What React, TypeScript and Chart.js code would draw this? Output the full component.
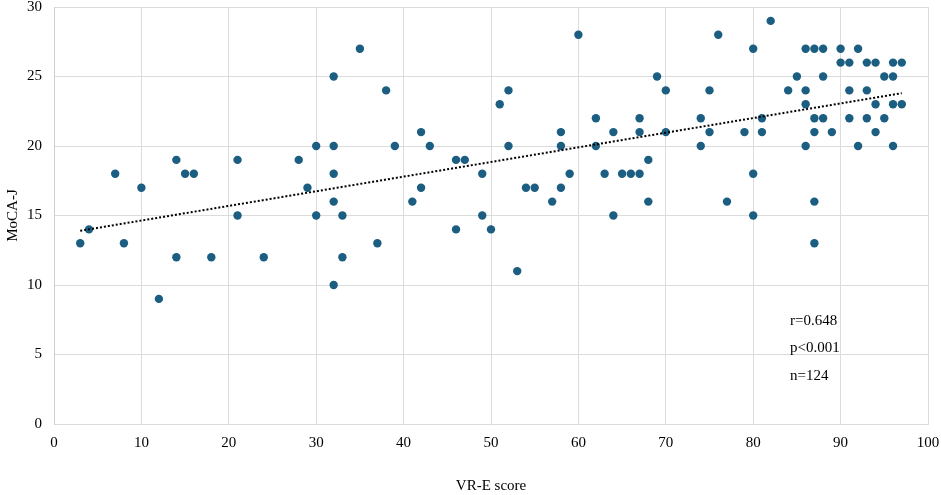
import React, { useEffect, useRef } from "react";
import { Chart, registerables } from "chart.js";
import type { Plugin } from "chart.js";

Chart.register(...registerables);

// VR-E score vs MoCA-J
const vreScores = [
  3, 4, 7, 8, 10, 12, 14, 14, 15, 16, 18, 21, 21, 24, 28, 29, 30, 30, 32, 32, 32, 32, 32, 33, 33, 35,
  37, 38, 39, 41, 42, 42, 43, 46, 46, 47, 49, 49, 50, 51, 52, 52, 53, 54, 55, 57, 58, 58, 58, 59,
  60, 62, 62, 63, 64, 64, 65, 66, 67, 67, 67, 68, 68, 69,
  70, 70, 74, 74, 75, 75, 76, 77, 79, 80, 80, 80, 81, 81, 82, 84, 85, 86, 86, 86, 86,
  87, 87, 87, 87, 87, 88, 88, 88, 89, 90, 90, 91, 91, 91, 92, 92, 93, 93, 93, 94, 94, 94,
  95, 95, 96, 96, 96, 96, 97, 97,
];
const mocaScores = [
  13, 14, 18, 13, 17, 9, 19, 12, 18, 18, 12, 19, 15, 12, 19, 17, 20, 15, 25, 20, 18, 16, 10, 15, 12, 27,
  13, 24, 20, 16, 21, 17, 20, 19, 14, 19, 18, 15, 14, 23, 24, 20, 11, 17, 17, 16, 21, 20, 17, 18,
  28, 22, 20, 18, 21, 15, 18, 18, 22, 21, 18, 19, 16, 25,
  24, 21, 22, 20, 24, 21, 28, 16, 21, 27, 18, 15, 22, 21, 29, 24, 25, 27, 24, 23, 20,
  27, 22, 21, 16, 13, 27, 25, 22, 21, 27, 26, 26, 24, 22, 27, 20, 26, 24, 22, 26, 23, 21,
  25, 22, 26, 25, 23, 20, 26, 23,
];

// dotted linear trend line end points
const trendX = [3, 97];
const trendY = [13.9, 23.8];

const statLines = ["r=0.648", "p<0.001", "n=124"];

const FONT = "'Liberation Serif', 'Times New Roman', serif";

const statsPlugin: Plugin<"scatter"> = {
  id: "statsText",
  afterDatasetsDraw(chart) {
    const ctx = chart.ctx;
    ctx.save();
    ctx.fillStyle = "#000";
    ctx.font = `15px ${FONT}`;
    ctx.textBaseline = "middle";
    ctx.textAlign = "left";
    statLines.forEach((line, i) => {
      ctx.fillText(line, 790, 321 + i * 27.5);
    });
    ctx.restore();
  },
};

const ScatterChart: React.FC = () => {
  const canvasRef = useRef<HTMLCanvasElement | null>(null);
  const chartRef = useRef<Chart | null>(null);

  useEffect(() => {
    if (!canvasRef.current) return;
    if (chartRef.current) chartRef.current.destroy();

    const points = vreScores.map((x, i) => ({ x, y: mocaScores[i] }));
    const trend = trendX.map((x, i) => ({ x, y: trendY[i] }));

    chartRef.current = new Chart(canvasRef.current, {
      type: "scatter",
      data: {
        datasets: [
          {
            label: "trend",
            data: trend,
            showLine: true,
            borderColor: "#000",
            borderWidth: 2,
            borderDash: [2, 2],
            pointRadius: 0,
            fill: false,
          },
          {
            label: "MoCA-J",
            data: points,
            pointRadius: 4.2,
            pointBackgroundColor: "#1b5e82",
            pointBorderWidth: 0,
          },
        ],
      },
      options: {
        animation: false,
        responsive: true,
        maintainAspectRatio: false,
        layout: { padding: { top: 7, right: 13, bottom: 0, left: 0 } },
        plugins: {
          legend: { display: false },
          tooltip: { enabled: false },
        },
        scales: {
          x: {
            type: "linear",
            min: 0,
            max: 100,
            ticks: {
              stepSize: 10,
              color: "#000",
              font: { family: FONT, size: 15 },
              padding: 10,
            },
            grid: { color: "#dcdcdc", drawTicks: false, lineWidth: 1 },
            border: { color: "#dcdcdc" },
            title: {
              display: true,
              text: "VR-E score",
              color: "#000",
              font: { family: FONT, size: 15 },
              padding: { top: 26, bottom: 0 },
            },
            afterFit: (scale) => {
              scale.height = 71;
              scale.paddingLeft = 0;
              scale.paddingRight = 0;
            },
          },
          y: {
            type: "linear",
            min: 0,
            max: 30,
            ticks: {
              stepSize: 5,
              color: "#000",
              font: { family: FONT, size: 15 },
              padding: 12,
            },
            grid: { color: "#dcdcdc", drawTicks: false, lineWidth: 1 },
            border: { color: "#cfcfcf" },
            title: {
              display: true,
              text: "MoCA-J",
              color: "#000",
              font: { family: FONT, size: 15 },
              padding: { bottom: 0 },
            },
            afterFit: (scale) => {
              scale.width = 54;
              scale.paddingTop = 0;
              scale.paddingBottom = 0;
            },
          },
        },
      },
      plugins: [statsPlugin],
    });

    return () => {
      if (chartRef.current) {
        chartRef.current.destroy();
        chartRef.current = null;
      }
    };
  }, []);

  return (
    <div style={{ position: "fixed", left: 0, top: 0, width: 941, height: 495, background: "#fff" }}>
      <canvas ref={canvasRef}></canvas>
    </div>
  );
};

export default function App() {
  return <ScatterChart />;
}
